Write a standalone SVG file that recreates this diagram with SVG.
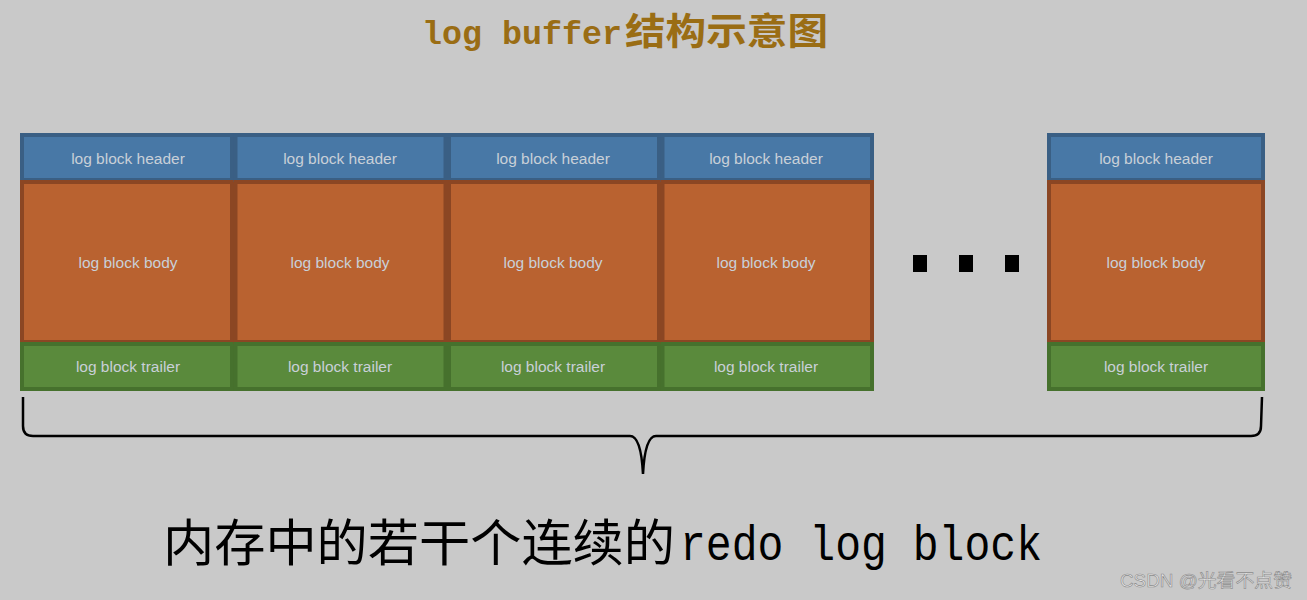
<svg xmlns="http://www.w3.org/2000/svg" width="1307" height="600" viewBox="0 0 1307 600">
<style>
.hd{fill:#4878a6;stroke:#3a5f84;stroke-width:4}
.bd{fill:#b96230;stroke:#8b4623;stroke-width:4}
.tr{fill:#5a8a3c;stroke:#46712d;stroke-width:4}
.lb{font-family:"Liberation Sans",Arial,sans-serif;font-size:15.5px;fill:#c9d0d8;text-anchor:middle}
.dot{fill:#000}
</style>
<rect width="1307" height="600" fill="#c9c9c9"/>
<text x="422" y="44" font-family="'Liberation Mono','Noto Sans CJK SC',monospace" font-weight="bold" font-size="33" fill="#9a6d14" textLength="200" lengthAdjust="spacingAndGlyphs">log buffer</text>
<text x="625" y="45" font-family="'Noto Sans CJK SC',sans-serif" font-weight="bold" font-size="37" fill="#9a6d14" textLength="203" lengthAdjust="spacingAndGlyphs">结构示意图</text>
<g id="block1">
<rect class="hd" x="22" y="135" width="210" height="45"/>
<rect class="bd" x="22" y="182" width="210" height="160"/>
<rect class="tr" x="22" y="344" width="210" height="45"/>
<text class="lb" x="128" y="164">log block header</text>
<text class="lb" x="128" y="268">log block body</text>
<text class="lb" x="128" y="372">log block trailer</text>
</g>
<g id="block2">
<rect class="hd" x="235.5" y="135" width="210" height="45"/>
<rect class="bd" x="235.5" y="182" width="210" height="160"/>
<rect class="tr" x="235.5" y="344" width="210" height="45"/>
<text class="lb" x="340" y="164">log block header</text>
<text class="lb" x="340" y="268">log block body</text>
<text class="lb" x="340" y="372">log block trailer</text>
</g>
<g id="block3">
<rect class="hd" x="449" y="135" width="210" height="45"/>
<rect class="bd" x="449" y="182" width="210" height="160"/>
<rect class="tr" x="449" y="344" width="210" height="45"/>
<text class="lb" x="553" y="164">log block header</text>
<text class="lb" x="553" y="268">log block body</text>
<text class="lb" x="553" y="372">log block trailer</text>
</g>
<g id="block4">
<rect class="hd" x="662.5" y="135" width="209.5" height="45"/>
<rect class="bd" x="662.5" y="182" width="209.5" height="160"/>
<rect class="tr" x="662.5" y="344" width="209.5" height="45"/>
<text class="lb" x="766" y="164">log block header</text>
<text class="lb" x="766" y="268">log block body</text>
<text class="lb" x="766" y="372">log block trailer</text>
</g>
<g id="ellipsis">
<rect class="dot" x="913" y="255" width="14" height="17"/>
<rect class="dot" x="959" y="255" width="14" height="17"/>
<rect class="dot" x="1005" y="255" width="14" height="17"/>
</g>
<g id="block5">
<rect class="hd" x="1049" y="135" width="214" height="45"/>
<rect class="bd" x="1049" y="182" width="214" height="160"/>
<rect class="tr" x="1049" y="344" width="214" height="45"/>
<text class="lb" x="1156" y="164">log block header</text>
<text class="lb" x="1156" y="268">log block body</text>
<text class="lb" x="1156" y="372">log block trailer</text>
</g>
<g id="connectors">
<path d="M23 397 L23 426 Q23 436 33 436 L630 436 Q641 436 643 474 Q645 436 656 436 L1251 436 Q1261 436 1261 426 L1262 397" fill="none" stroke="#000" stroke-width="2.5"/>
</g>
<text x="163" y="561" font-family="'Noto Sans CJK SC',sans-serif" font-size="50" fill="#000" textLength="512" lengthAdjust="spacingAndGlyphs">内存中的若干个连续的</text>
<text x="680" y="560" font-family="'Liberation Mono',monospace" font-size="50" fill="#000" textLength="362" lengthAdjust="spacingAndGlyphs">redo log block</text>
<text x="1120" y="587" font-family="'Liberation Sans','Noto Sans CJK SC',sans-serif" font-size="18" fill="#e6e6e6" stroke="#8a8a8a" stroke-width="0.6" textLength="172" lengthAdjust="spacingAndGlyphs">CSDN @光看不点赞</text>
</svg>
